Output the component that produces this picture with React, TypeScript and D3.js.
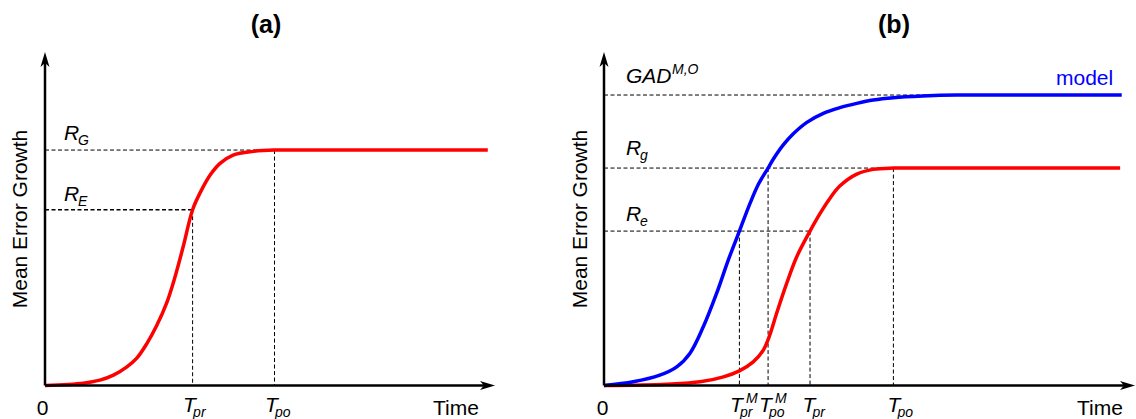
import React from "react";
import * as d3 from "d3";

// Panel (a): observed error growth curve (time, value)
const timeA = [0, 8.5, 12.2, 15.2, 18.2, 20.4, 22.6, 24.8, 27.0, 28.9, 30.7, 32.8, 34.4, 36.7, 38.9, 41.8, 46.3, 51.0, 60, 80, 98.4];
const errorA = [0, 0.7, 1.6, 3.1, 5.6, 8.2, 12.5, 17.9, 24.6, 32.6, 41.6, 52.7, 57.6, 63.1, 66.6, 69.1, 70.2, 70.6, 70.6, 70.6, 70.6];

// Panel (b): model (blue) and observed (red) error growth
const timeModel = [0, 5.5, 10.5, 13.7, 16.2, 18.7, 21.2, 23.4, 25.5, 27.5, 29.1, 30.9, 31.9, 33.8, 35.6, 38.2, 41.3, 44.4, 47.6, 50.7, 54.5, 60, 66.5, 80, 97.5];
const errorModel = [0, 1.1, 3.1, 5.6, 9.7, 17.6, 27.6, 37.6, 46.3, 54.6, 60.4, 65.2, 67.9, 72.2, 75.4, 78.9, 81.6, 83.3, 84.6, 85.6, 86.3, 86.8, 87.1, 87.1, 87.1];
const timeObs = [0, 11.8, 18.1, 22.5, 25.5, 28.1, 30.0, 31.1, 32.5, 34.4, 36.3, 38.8, 40.7, 42.5, 44.4, 47.6, 50.7, 54.5, 62, 80, 97.2];
const errorObs = [0, 0.4, 1.1, 2.6, 4.4, 7.1, 10.6, 14.6, 21.6, 30.6, 38.6, 46.3, 51.6, 56.0, 59.8, 63.4, 64.8, 65.2, 65.2, 65.2, 65.2];

// Reference levels and times
const levelsA = { RG: 70.6, RE: 52.7 };
const timesA = { Tpr: 32.8, Tpo: 51.0 };
const levelsB = { GAD: 87.1, Rg: 65.2, Re: 46.3 };
const timesB = { TMpr: 25.5, TMpo: 30.9, Tpr: 38.8, Tpo: 54.5 };
const gadLineEnd = 68.5;

const FONT = "'Liberation Sans', Arial, Helvetica, sans-serif";
const RED = "#ff0000";
const BLUE = "#0000ff";

const yScale = d3.scaleLinear().domain([0, 100]).range([385.5, 52]);
const xA = d3.scaleLinear().domain([0, 100]).range([45, 495]);
const xB = d3.scaleLinear().domain([0, 100]).range([604, 1135]);

function pathFor(x: d3.ScaleLinear<number, number>, ts: number[], vs: number[]) {
  const line = d3
    .line<number>()
    .x((_, i) => x(ts[i]))
    .y((v) => yScale(v))
    .curve(d3.curveCatmullRom.alpha(0.5));
  return line(vs) || "";
}

function Axes({ x0, x1 }: { x0: number; x1: number }) {
  const y0 = yScale(0);
  const yTop = yScale(100);
  return (
    <g>
      <line x1={x0} y1={y0} x2={x0} y2={yTop + 6} stroke="#000" strokeWidth={2.5} />
      <line x1={x0} y1={y0} x2={x1 - 6} y2={y0} stroke="#000" strokeWidth={2.5} />
      <path
        d={`M${x0},${yTop} L${x0 - 4.5},${yTop + 15} L${x0},${yTop + 11} L${x0 + 4.5},${yTop + 15} Z`}
        fill="#000"
      />
      <path
        d={`M${x1},${y0} L${x1 - 15},${y0 - 4.5} L${x1 - 11},${y0} L${x1 - 15},${y0 + 4.5} Z`}
        fill="#000"
      />
    </g>
  );
}

function Dashed({ x1, y1, x2, y2, w = 1 }: { x1: number; y1: number; x2: number; y2: number; w?: number }) {
  return <line x1={x1} y1={y1} x2={x2} y2={y2} stroke="#000" strokeWidth={w} strokeDasharray="4,2.5" />;
}

// Italic symbol with optional subscript / superscript
function Sym({
  x,
  y,
  main,
  sub,
  sup,
  subDx = 10,
  supDx = 14,
}: {
  x: number;
  y: number;
  main: string;
  sub?: string;
  sup?: string;
  subDx?: number;
  supDx?: number;
}) {
  return (
    <g fontFamily={FONT} fontStyle="italic" fill="#000">
      <text x={x} y={y} fontSize={21}>
        {main}
      </text>
      {sub && (
        <text x={x + subDx} y={y + 5} fontSize={14}>
          {sub}
        </text>
      )}
      {sup && (
        <text x={x + supDx} y={y - 9} fontSize={14}>
          {sup}
        </text>
      )}
    </g>
  );
}

export default function App() {
  const y0 = yScale(0);
  return (
    <svg
      width={1136}
      height={419}
      style={{ position: "absolute", left: 0, top: 0, background: "#fff" }}
    >
      <rect width={1136} height={419} fill="#fff" />

      {/* Panel (a) */}
      <text x={266} y={33} textAnchor="middle" fontFamily={FONT} fontWeight="bold" fontSize={25}>
        (a)
      </text>
      <text
        transform={`translate(27,219) rotate(-90)`}
        textAnchor="middle"
        fontFamily={FONT}
        fontSize={21}
      >
        Mean Error Growth
      </text>
      <Dashed x1={xA(0)} y1={yScale(levelsA.RG)} x2={xA(timesA.Tpo)} y2={yScale(levelsA.RG)} />
      <Dashed x1={xA(0)} y1={yScale(levelsA.RE)} x2={xA(timesA.Tpr)} y2={yScale(levelsA.RE)} w={1.5} />
      <Dashed x1={xA(timesA.Tpr)} y1={yScale(levelsA.RE)} x2={xA(timesA.Tpr)} y2={y0} />
      <Dashed x1={xA(timesA.Tpo)} y1={yScale(levelsA.RG)} x2={xA(timesA.Tpo)} y2={y0} />
      <path d={pathFor(xA, timeA, errorA)} fill="none" stroke={RED} strokeWidth={3.5} />
      <Axes x0={xA(0)} x1={xA(100)} />
      <Sym x={64} y={140} main="R" sub="G" subDx={14} />
      <Sym x={64} y={201} main="R" sub="E" subDx={14} />
      <text x={42.5} y={415} textAnchor="middle" fontFamily={FONT} fontSize={21}>
        0
      </text>
      <Sym x={xA(timesA.Tpr) - 9.5} y={412} main="T" sub="pr" />
      <Sym x={xA(timesA.Tpo) - 9.5} y={412} main="T" sub="po" />
      <text x={433} y={415} fontFamily={FONT} fontSize={21}>
        Time
      </text>

      {/* Panel (b) */}
      <text x={894} y={33} textAnchor="middle" fontFamily={FONT} fontWeight="bold" fontSize={25}>
        (b)
      </text>
      <text
        transform={`translate(587,219) rotate(-90)`}
        textAnchor="middle"
        fontFamily={FONT}
        fontSize={21}
      >
        Mean Error Growth
      </text>
      <Dashed x1={xB(0)} y1={yScale(levelsB.GAD)} x2={xB(gadLineEnd)} y2={yScale(levelsB.GAD)} />
      <Dashed x1={xB(0)} y1={yScale(levelsB.Rg)} x2={xB(timesB.Tpo)} y2={yScale(levelsB.Rg)} />
      <Dashed x1={xB(0)} y1={yScale(levelsB.Re)} x2={xB(timesB.Tpr)} y2={yScale(levelsB.Re)} />
      <Dashed x1={xB(timesB.TMpr)} y1={yScale(levelsB.Re)} x2={xB(timesB.TMpr)} y2={y0} />
      <Dashed x1={xB(timesB.TMpo)} y1={yScale(levelsB.Rg)} x2={xB(timesB.TMpo)} y2={y0} />
      <Dashed x1={xB(timesB.Tpr)} y1={yScale(levelsB.Re)} x2={xB(timesB.Tpr)} y2={y0} />
      <Dashed x1={xB(timesB.Tpo)} y1={yScale(levelsB.Rg)} x2={xB(timesB.Tpo)} y2={y0} />
      <path d={pathFor(xB, timeObs, errorObs)} fill="none" stroke={RED} strokeWidth={3.5} />
      <path d={pathFor(xB, timeModel, errorModel)} fill="none" stroke={BLUE} strokeWidth={3.5} />
      <Axes x0={xB(0)} x1={xB(100)} />
      <Sym x={626} y={83} main="GAD" sup="M,O" supDx={46} />
      <Sym x={626} y={155} main="R" sub="g" subDx={14} />
      <Sym x={626} y={221} main="R" sub="e" subDx={14} />
      <text x={1056} y={85} fontFamily={FONT} fontSize={21} fill={BLUE}>
        model
      </text>
      <text x={602.5} y={415} textAnchor="middle" fontFamily={FONT} fontSize={21}>
        0
      </text>
      <Sym x={xB(timesB.TMpr) - 9.5} y={412} main="T" sub="pr" sup="M" supDx={16} />
      <Sym x={xB(timesB.TMpo) - 9} y={412} main="T" sub="po" sup="M" supDx={16} />
      <Sym x={xB(timesB.Tpr) - 7.5} y={412} main="T" sub="pr" />
      <Sym x={xB(timesB.Tpo) - 6} y={412} main="T" sub="po" />
      <text x={1077} y={415} fontFamily={FONT} fontSize={21}>
        Time
      </text>
    </svg>
  );
}
